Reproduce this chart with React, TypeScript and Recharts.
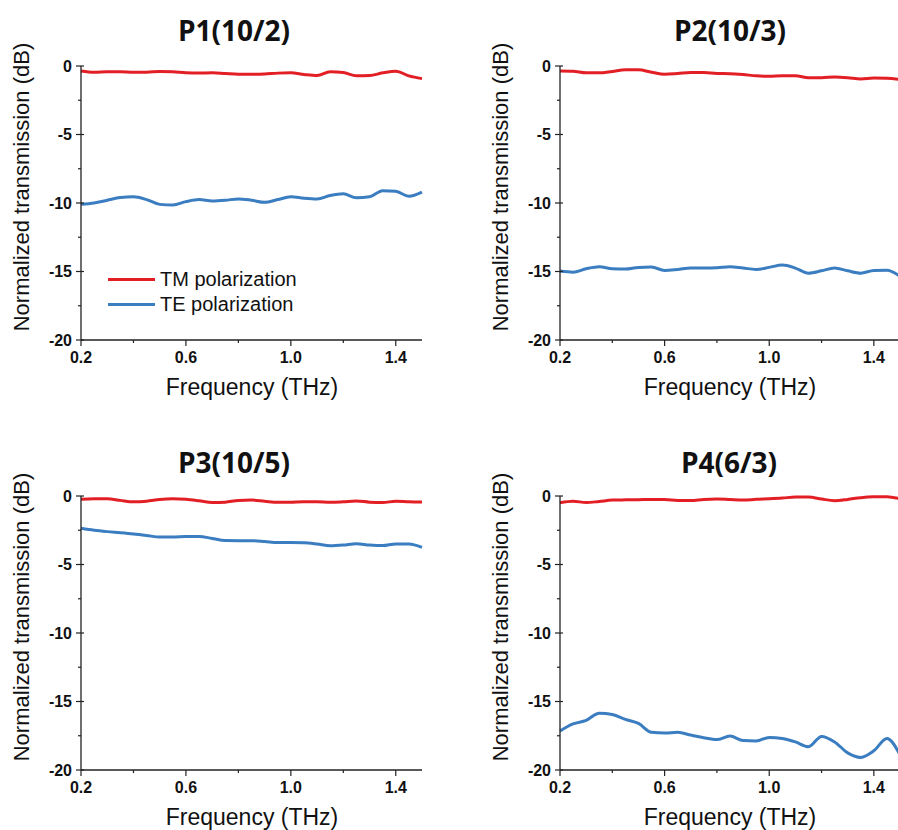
import { LineChart, Line, XAxis, YAxis, Legend } from "recharts";

// Frequency grid (THz) shared by every panel
const FREQ = [
  0.2, 0.25, 0.3, 0.35, 0.4, 0.45, 0.5, 0.55, 0.6, 0.65, 0.7, 0.75, 0.8, 0.85,
  0.9, 0.95, 1.0, 1.05, 1.1, 1.15, 1.2, 1.25, 1.3, 1.35, 1.4, 1.45, 1.5,
];

// Normalized transmission (dB)
const P1_TM = [
  -0.36, -0.45, -0.42, -0.42, -0.45, -0.45, -0.4, -0.42, -0.5, -0.52, -0.5, -0.55, -0.6, -0.6,
  -0.58, -0.52, -0.5, -0.62, -0.7, -0.42, -0.48, -0.72, -0.7, -0.5, -0.38, -0.72, -0.92,
];
const P1_TE = [
  -10.09, -10.0, -9.8, -9.6, -9.55, -9.75, -10.1, -10.15, -9.9, -9.75, -9.85, -9.8, -9.7, -9.8,
  -9.95, -9.75, -9.55, -9.65, -9.7, -9.45, -9.33, -9.62, -9.55, -9.1, -9.15, -9.5, -9.2,
];
const P2_TM = [
  -0.36, -0.38, -0.5, -0.5, -0.4, -0.28, -0.28, -0.45, -0.6, -0.55, -0.48, -0.48, -0.55, -0.56,
  -0.62, -0.72, -0.75, -0.72, -0.72, -0.85, -0.85, -0.8, -0.85, -0.95, -0.88, -0.9, -0.98,
];
const P2_TE = [
  -14.97, -15.05, -14.8, -14.65, -14.8, -14.82, -14.7, -14.68, -14.92, -14.85, -14.75, -14.75,
  -14.73, -14.65, -14.75, -14.85, -14.7, -14.53, -14.75, -15.12, -14.95, -14.75, -14.95, -15.12,
  -14.92, -14.9, -15.35,
];
const P3_TM = [
  -0.24, -0.2, -0.2, -0.32, -0.42, -0.38, -0.25, -0.2, -0.24, -0.35, -0.48, -0.45, -0.32, -0.3,
  -0.38, -0.46, -0.45, -0.42, -0.42, -0.46, -0.42, -0.36, -0.45, -0.48, -0.38, -0.42, -0.44,
];
const P3_TE = [
  -2.36, -2.5, -2.6, -2.68, -2.77, -2.88, -3.0, -3.0, -2.95, -2.95, -3.1, -3.25, -3.26, -3.26,
  -3.32, -3.4, -3.4, -3.41, -3.5, -3.63, -3.58, -3.48, -3.58, -3.62, -3.5, -3.5, -3.75,
];
const P4_TM = [
  -0.49, -0.38, -0.48, -0.4, -0.3, -0.28, -0.27, -0.25, -0.25, -0.32, -0.33, -0.25, -0.22, -0.26,
  -0.3, -0.24, -0.2, -0.15, -0.08, -0.08, -0.22, -0.34, -0.25, -0.12, -0.06, -0.05, -0.2,
];
const P4_TE = [
  -17.15, -16.64, -16.38, -15.85, -15.95, -16.3, -16.6, -17.25, -17.3, -17.25, -17.45, -17.65,
  -17.78, -17.52, -17.85, -17.88, -17.62, -17.7, -17.95, -18.3, -17.55, -17.95, -18.75, -19.08,
  -18.6, -17.7, -18.9,
];

const TITLES = ["P1(10/2)", "P2(10/3)", "P3(10/5)", "P4(6/3)"];
const LEGEND_LABELS = ["TM polarization", "TE polarization"];
const X_LABEL = "Frequency (THz)";
const Y_LABEL = "Normalized transmission (dB)";

const X_TICKS = [0.2, 0.4, 0.6, 0.8, 1.0, 1.2, 1.4];
const X_MAJOR = [0.2, 0.6, 1.0, 1.4];
const Y_TICKS = [0, -2.5, -5, -7.5, -10, -12.5, -15, -17.5, -20];
const Y_MAJOR = [0, -5, -10, -15, -20];

const TM_COLOR = "#e31f26";
const TE_COLOR = "#3a7dc0";
const AXIS_DARK = "#222";
const AXIS_LIGHT = "#8a8a8a";

const rows = (tm: number[], te: number[]) =>
  FREQ.map((f, i) => ({ f, tm: tm[i], te: te[i] }));

const SERIES = [
  rows(P1_TM, P1_TE),
  rows(P2_TM, P2_TE),
  rows(P3_TM, P3_TE),
  rows(P4_TM, P4_TE),
];

// page geometry of each panel: chart box + plot box + text anchors
const PANELS = [
  { ox: 0, oy: 0, w: 449, plotL: 81, plotR: 422, plotT: 66, plotB: 340, title: [234, 30], yl: [22, 187], xl: [252, 387] },
  { ox: 449, oy: 0, w: 460, plotL: 560, plotR: 900, plotT: 66, plotB: 340, title: [730, 30], yl: [501, 187], xl: [730, 387] },
  { ox: 0, oy: 420, w: 449, plotL: 81, plotR: 422, plotT: 496, plotB: 770, title: [234, 462], yl: [22, 617], xl: [252, 817] },
  { ox: 449, oy: 420, w: 460, plotL: 560, plotR: 900, plotT: 496, plotB: 770, title: [729, 462], yl: [501, 617], xl: [730, 817] },
];
const CHART_H = 410;
const X_AXIS_H = 30;

const isMajor = (v: number, majors: number[]) => majors.some((m) => Math.abs(m - v) < 1e-6);

function BottomTick(props: any) {
  const { x, y, payload } = props;
  const major = isMajor(payload.value, X_MAJOR);
  return (
    <g>
      <line x1={x} y1={y} x2={x} y2={y + (major ? 6 : 3)} stroke={AXIS_DARK} strokeWidth={1.2} />
      {major && (
        <text x={x} y={y + 17} textAnchor="middle" dominantBaseline="central" fontSize={16} fontWeight={700} fill="#111">
          {payload.value.toFixed(1)}
        </text>
      )}
    </g>
  );
}

function TopTick(props: any) {
  const { x, y, payload } = props;
  const major = isMajor(payload.value, X_MAJOR);
  return <line x1={x} y1={y} x2={x} y2={y + (major ? 5 : 3)} stroke={AXIS_LIGHT} strokeWidth={1.2} />;
}

function LeftTick(props: any) {
  const { x, y, payload } = props;
  const major = isMajor(payload.value, Y_MAJOR);
  return (
    <g>
      <line x1={x - (major ? 5 : 3)} y1={y} x2={x + (major ? 3 : 0)} y2={y} stroke={AXIS_DARK} strokeWidth={1.2} />
      {major && (
        <text x={x - 9} y={y} textAnchor="end" dominantBaseline="central" fontSize={16} fontWeight={700} fill="#111">
          {payload.value}
        </text>
      )}
    </g>
  );
}

function RightTick(props: any) {
  const { x, y, payload } = props;
  const major = isMajor(payload.value, Y_MAJOR);
  return <line x1={x} y1={y} x2={x - (major ? 5 : 3)} y2={y} stroke={AXIS_LIGHT} strokeWidth={1.2} />;
}

function LegendBox() {
  const colours = [TM_COLOR, TE_COLOR];
  return (
    <div style={{ fontSize: 20, color: "#111", fontFamily: "'Liberation Sans', Arial, sans-serif" }}>
      {LEGEND_LABELS.map((label, i) => (
        <div key={label} style={{ display: "flex", alignItems: "center", height: 25 }}>
          <span style={{ display: "inline-block", width: 47, height: 3, background: colours[i], marginRight: 5 }} />
          <span>{label}</span>
        </div>
      ))}
    </div>
  );
}

const centered = (x: number, y: number, extra: React.CSSProperties = {}): React.CSSProperties => ({
  position: "absolute",
  left: x,
  top: y,
  transform: "translate(-50%, -50%)",
  whiteSpace: "nowrap",
  lineHeight: 1,
  ...extra,
});

function Panel({ idx }: { idx: number }) {
  const p = PANELS[idx];
  const data = SERIES[idx];
  const localT = p.plotT - p.oy;
  const localB = p.plotB - p.oy;
  const yAxisW = p.plotL - p.ox;
  const marginR = p.ox + p.w - p.plotR;
  return (
    <>
      <div style={{ position: "absolute", left: p.ox, top: p.oy }}>
        <LineChart
          width={p.w}
          height={CHART_H}
          data={data}
          margin={{ top: localT, right: marginR, bottom: CHART_H - localB - X_AXIS_H, left: 0 }}
        >
          <XAxis
            type="number"
            dataKey="f"
            domain={[0.2, 1.5]}
            ticks={X_TICKS}
            height={X_AXIS_H}
            tickSize={0}
            tickMargin={0}
            tickLine={false}
            axisLine={{ stroke: AXIS_DARK, strokeWidth: 1.3 }}
            tick={(t: any) => <BottomTick {...t} />}
            interval={0}
          />
          <XAxis
            xAxisId="top"
            orientation="top"
            type="number"
            dataKey="f"
            domain={[0.2, 1.5]}
            ticks={X_TICKS}
            height={0}
            tickSize={0}
            tickMargin={0}
            tickLine={false}
            axisLine={{ stroke: AXIS_LIGHT, strokeWidth: 1.3 }}
            tick={(t: any) => <TopTick {...t} />}
            interval={0}
          />
          <YAxis
            type="number"
            domain={[-20, 0]}
            ticks={Y_TICKS}
            width={yAxisW}
            tickSize={0}
            tickMargin={0}
            tickLine={false}
            axisLine={{ stroke: AXIS_DARK, strokeWidth: 1.3 }}
            tick={(t: any) => <LeftTick {...t} />}
            interval={0}
          />
          <YAxis
            yAxisId="right"
            orientation="right"
            type="number"
            domain={[-20, 0]}
            ticks={Y_TICKS}
            width={0}
            tickSize={0}
            tickMargin={0}
            tickLine={false}
            axisLine={{ stroke: AXIS_LIGHT, strokeWidth: 1.3 }}
            tick={(t: any) => <RightTick {...t} />}
            interval={0}
          />
          <Line
            type="monotone"
            dataKey="tm"
            name={LEGEND_LABELS[0]}
            stroke={TM_COLOR}
            strokeWidth={3}
            dot={false}
            isAnimationActive={false}
          />
          <Line
            type="monotone"
            dataKey="te"
            name={LEGEND_LABELS[1]}
            stroke={TE_COLOR}
            strokeWidth={3}
            dot={false}
            isAnimationActive={false}
          />
          {idx === 0 && (
            <Legend
              layout="vertical"
              align="center"
              verticalAlign="middle"
              content={() => <LegendBox />}
              wrapperStyle={{ left: 108, top: 267, width: "auto" }}
            />
          )}
        </LineChart>
      </div>
      <div style={centered(p.title[0], p.title[1], { fontFamily: "'Open Sans', sans-serif", fontWeight: 700, fontSize: 28, color: "#111" })}>
        {TITLES[idx]}
      </div>
      <div style={centered(p.yl[0], p.yl[1], { fontSize: 22, color: "#111", transform: "translate(-50%, -50%) rotate(-90deg)" })}>
        {Y_LABEL}
      </div>
      <div style={centered(p.xl[0], p.xl[1], { fontSize: 23, color: "#111" })}>{X_LABEL}</div>
    </>
  );
}

export default function App() {
  return (
    <div
      style={{
        position: "fixed",
        left: 0,
        top: 0,
        width: 898,
        height: 830,
        overflow: "hidden",
        background: "#fff",
        fontFamily: "'Liberation Sans', Arial, sans-serif",
      }}
    >
      {PANELS.map((_, i) => (
        <Panel key={i} idx={i} />
      ))}
    </div>
  );
}
